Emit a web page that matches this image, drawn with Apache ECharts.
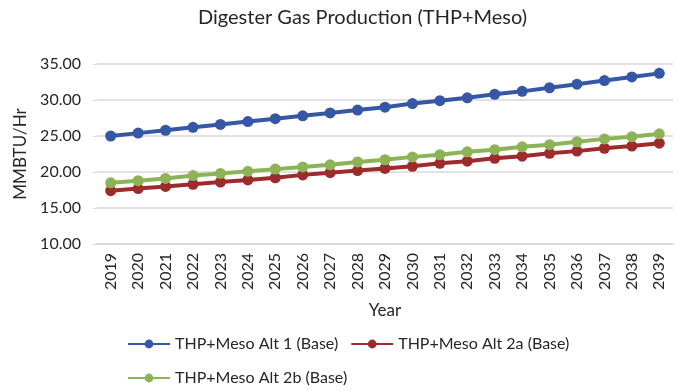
<!DOCTYPE html>
<html>
<head>
<meta charset="utf-8">
<script src="https://cdn.jsdelivr.net/npm/echarts@6/dist/echarts.min.js"></script>
<style>html,body{margin:0;padding:0;background:#fff;}#c{width:679px;height:391px;}</style>
</head>
<body>
<div id="c"></div>
<script>
const years = ['2019','2020','2021','2022','2023','2024','2025','2026','2027','2028','2029','2030','2031','2032','2033','2034','2035','2036','2037','2038','2039'];
const alt1 = [25.0,25.4,25.8,26.2,26.6,27.0,27.4,27.8,28.2,28.6,29.0,29.5,29.9,30.3,30.8,31.2,31.7,32.2,32.7,33.2,33.7];
const alt2a = [17.4,17.7,18.0,18.3,18.6,18.9,19.2,19.6,19.9,20.2,20.5,20.8,21.2,21.5,21.9,22.2,22.6,22.9,23.3,23.6,24.0];
const alt2b = [18.5,18.8,19.1,19.5,19.8,20.1,20.4,20.7,21.0,21.4,21.7,22.1,22.4,22.8,23.1,23.5,23.8,24.2,24.6,24.9,25.3];
const names = ['THP+Meso Alt 1 (Base)','THP+Meso Alt 2a (Base)','THP+Meso Alt 2b (Base)'];
const colors = ['#3656A6','#9E2B2C','#8CB356'];
const FONT = 'Lato';
const TXT = '#262626';

const chart = echarts.init(document.getElementById('c'));
function ser(name, data, color){
  return {name, type:'line', data, symbol:'circle', symbolSize:11,
    lineStyle:{width:4,color}, itemStyle:{color}, animation:false};
}
chart.setOption({
  animation:false,
  textStyle:{fontFamily:FONT},
  title:{text:'Digester Gas Production (THP+Meso)', left:193, top:3,
    textStyle:{fontFamily:FONT,fontSize:20,fontWeight:'normal',color:TXT}},
  legend:[
    {data:[names[0],names[1]], left:122, top:331, itemWidth:42, itemHeight:11, itemGap:12,
      textStyle:{fontFamily:FONT,fontSize:16,color:TXT}},
    {data:[names[2]], left:122, top:365, itemWidth:42, itemHeight:11,
      textStyle:{fontFamily:FONT,fontSize:16,color:TXT}}
  ],
  grid:{left:97, right:6, top:64, bottom:147},
  xAxis:{type:'category', data:years, boundaryGap:true,
    name:'Year', nameLocation:'middle', nameGap:58,
    nameTextStyle:{fontFamily:FONT,fontSize:17,color:TXT},
    axisLine:{lineStyle:{color:'#D9D9D9',width:1.5}}, axisTick:{show:false},
    axisLabel:{rotate:90, margin:9, fontFamily:FONT, fontSize:16, color:TXT}},
  yAxis:{type:'value', min:10, max:35, interval:5,
    name:'MMBTU/Hr', nameLocation:'middle', nameGap:63, nameRotate:90,
    nameTextStyle:{fontFamily:FONT,fontSize:17,color:TXT},
    axisLine:{show:false}, axisTick:{show:true,inside:false,length:4,lineStyle:{color:'#D9D9D9'}},
    splitLine:{lineStyle:{color:'#D9D9D9',width:1.5}},
    axisLabel:{margin:16, fontFamily:FONT, fontSize:16, color:TXT,
      formatter:v=>v.toFixed(2)}},
  series:[ser(names[0],alt1,colors[0]), ser(names[1],alt2a,colors[1]), ser(names[2],alt2b,colors[2])]
});
</script>
</body>
</html>
